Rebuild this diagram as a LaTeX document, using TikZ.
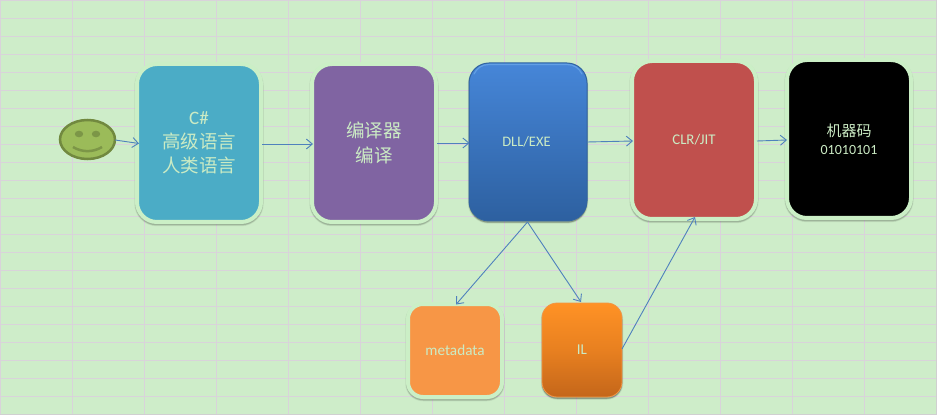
\documentclass[tikz,border=0pt]{standalone}
\usepackage{fontspec}
\setmainfont{Carlito}
\newfontfamily\cjk{Noto Sans CJK SC}
\usetikzlibrary{arrows.meta,shadows,calc,shapes.geometric}
\definecolor{bgcol}{HTML}{CEEDC9}
\definecolor{gridcol}{HTML}{D9D3DA}
\definecolor{edgecol}{HTML}{D0D0D0}
\definecolor{framecol}{HTML}{CBEFC6}
\definecolor{txtcol}{HTML}{CBEBC4}
\definecolor{linkcol}{HTML}{4F81BD}
\definecolor{facefill}{RGB}{155,187,89}
\definecolor{faceline}{RGB}{113,137,63}
\definecolor{facemark}{RGB}{124,150,71}
\definecolor{tealcol}{RGB}{75,172,198}
\definecolor{purplecol}{RGB}{128,100,162}
\definecolor{redcol}{RGB}{192,80,77}
\definecolor{orangecol}{RGB}{247,150,70}
\definecolor{bluetop}{RGB}{70,134,216}
\definecolor{bluebot}{RGB}{45,96,160}
\definecolor{blueline}{RGB}{50,100,160}
\definecolor{bluerim}{RGB}{110,170,235}
\definecolor{iltop}{RGB}{255,146,37}
\definecolor{ilmid}{RGB}{232,128,32}
\definecolor{ilbot}{RGB}{196,102,26}
\definecolor{illine}{RGB}{240,150,70}
\tikzset{
  x=1pt,y=-1pt,
  softshadow/.style={general shadow={shadow xshift=0pt,shadow yshift=-1.5pt,fill=black,draw=black,line width=#1+1.5pt,opacity=.05},
                     general shadow={shadow xshift=0pt,shadow yshift=-1.5pt,fill=black,draw=black,line width=#1+.5pt,opacity=.08},
                     general shadow={shadow xshift=0pt,shadow yshift=-1.5pt,fill=black,draw=black,line width=#1-.5pt,opacity=.12}},
  panel/.style={rectangle,rounded corners=20pt,outer sep=0pt,inner sep=0pt,align=center,text=txtcol},
  framed/.style={panel,softshadow=4pt,draw=framecol,line width=4pt,fill=#1},
  raised/.style={panel,softshadow=1pt},
  link/.style={draw=linkcol,line width=.9pt,-{Straight Barb[length=6pt,width=10pt,line width=.9pt]}},
  gridline/.style={draw=gridcol,line width=1pt},
  facemarkstyle/.style={fill=facemark},
}
\begin{document}
\begin{tikzpicture}
\useasboundingbox (0,0) rectangle (938,417);
\fill[white] (0,0) rectangle (938,417);
\fill[bgcol] (0,0) rectangle (936,414);
\foreach \yy in {0,18,...,396} {\draw[gridline] (0,\yy+.5) -- (936,\yy+.5);}
\foreach \xx in {0,72,...,864} {\draw[gridline] (\xx+.5,0) -- (\xx+.5,414);}
\draw[edgecol,line width=1.2pt] (936.5,0) -- (936.5,414.5) -- (0,414.5);

% smiley
\node[ellipse,minimum width=55pt,minimum height=39pt,inner sep=0pt,outer sep=0pt,fill=facefill,draw=faceline,line width=2.5pt] (face) at (87.5,139.5) {};
\fill[facemarkstyle] (79,134) ellipse [x radius=4.2,y radius=3.3];
\fill[facemarkstyle] (96,134) ellipse [x radius=4.2,y radius=3.3];
\draw[facemark,line width=2.5pt] (73,147) .. controls (82,152.5) and (93,152.5) .. (102,147);

\node[framed=tealcol,minimum width=124pt,minimum height=158pt,font=\fontsize{19}{24}\selectfont] (csharp) at (199,143) {C\#\\{\cjk\fontsize{18.5}{24}\selectfont 高级语言}\\{\cjk\fontsize{18.5}{24}\selectfont 人类语言}};
\node[framed=purplecol,minimum width=124pt,minimum height=158pt,font=\fontsize{18.5}{25}\selectfont] (compiler) at (374,143) {{\cjk 编译器}\\{\cjk 编译}};
\node[raised,draw=blueline,line width=1pt,top color=bluetop,bottom color=bluebot,minimum width=118pt,minimum height=158pt,font=\fontsize{14.5}{16}\selectfont] (dll) at (528,142) {\hspace*{-3pt}DLL/EXE};
\draw[bluerim,line width=1.2pt,line cap=round,opacity=.7] (474,74) .. controls (477,68) and (482,64.5) .. (489,64.5) -- (567,64.5) .. controls (574,64.5) and (579,68) .. (582,74);
\node[framed=redcol,minimum width=124pt,minimum height=158pt,font=\fontsize{14.8}{16}\selectfont] (clr) at (694,140) {CLR/JIT};
\node[framed=black,minimum width=124pt,minimum height=158pt] (native) at (849,139) {{\cjk\fontsize{15}{19}\selectfont 机器码}\\[6pt]{\fontsize{14}{16}\selectfont 01010101}};
\node[framed=orangecol,minimum width=94pt,minimum height=93pt,rounded corners=15pt,font=\fontsize{15.2}{16}\selectfont] (meta) at (455,350.5) {metadata};
\node[raised,rounded corners=15pt,draw=illine,line width=.8pt,top color=iltop,bottom color=ilbot,middle color=ilmid,minimum width=80pt,minimum height=94pt,font=\fontsize{15}{16}\selectfont] (il) at (582,350) {IL};

\draw[link] ($(face.east)+(0,.5)$) -- ($(csharp.west)+(2,.5)$);
\draw[link] ($(csharp.east)+(1,1)$) -- ($(compiler.west)+(1,1)$);
\draw[link] ($(compiler.east)+(1,0)$) -- ($(dll.west)+(.5,1)$);
\draw[link] ($(dll.east)+(0,0)$) -- ($(clr.west)+(1,1)$);
\draw[link] ($(clr.east)+(1,1)$) -- ($(native.west)+(0,1)$);
\draw[link] ($(dll.south)+(-.5,1)$) -- ($(meta.north)+(1,.5)$);
\draw[link] ($(dll.south)+(-.5,1)$) -- ($(il.north)+(-1,-1)$);
\draw[link] ($(il.east)+(0,-1)$) -- ($(clr.south)+(1,-2)$);
\end{tikzpicture}
\end{document}
